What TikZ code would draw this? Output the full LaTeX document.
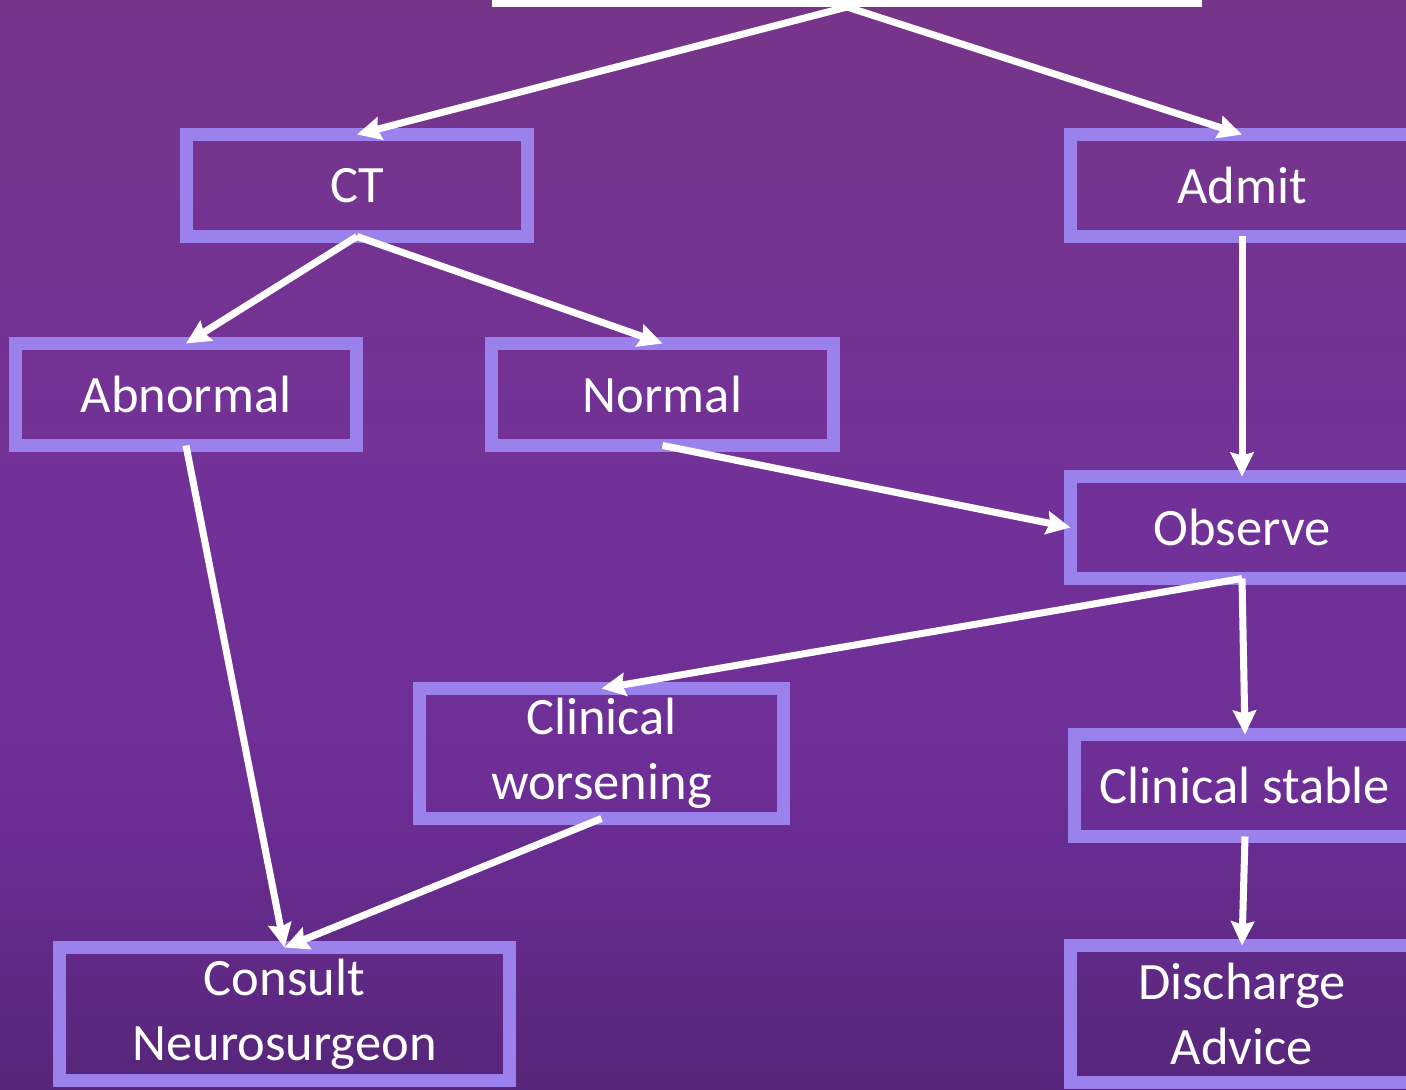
\documentclass[tikz,border=0pt]{standalone}
\usepackage{fontspec}
\setmainfont{Carlito}
\usetikzlibrary{arrows.meta}

\definecolor{bgtop}{RGB}{118,53,137}
\definecolor{bgupper}{RGB}{116,51,145}
\definecolor{bgmid}{RGB}{113,49,153}
\definecolor{bglow}{RGB}{109,46,150}
\definecolor{bgbot}{RGB}{86,38,122}
\definecolor{lavender}{RGB}{155,129,235}

\pgfdeclareverticalshading{slideback}{100bp}{color(0bp)=(bgbot); color(25bp)=(bgbot);
  color(39bp)=(bglow); color(50.5bp)=(bgmid); color(62.5bp)=(bgupper);
  color(75bp)=(bgtop); color(100bp)=(bgtop)}

\begin{document}
\begin{tikzpicture}[x=0.02cm, y=-0.02cm, font=\fontsize{29.9}{37}\selectfont]
            \tikzstyle{flow box}=[draw=lavender, line width=7.4pt, text=white, align=center,
                                  minimum width=6.84cm, minimum height=2.04cm, inner sep=0pt, outer sep=0pt]
            \tikzstyle{flow arrow}=[white, line width=4pt,
                                    -{Stealth[length=0.48cm, width=0.46cm, inset=0.06cm]}]

            % background
            \useasboundingbox (0,0) rectangle (1406,1089);
            \clip (0,0) rectangle (1406,1089);
            \shade[shading=slideback] (0,0) rectangle (1406,1089);

            % boxes
            \node[fill=white, minimum width=14.2cm, minimum height=2cm, inner sep=0pt, outer sep=0pt] (head) at (847,-43) {};
            \node[flow box] (ct) at (357,185.5) {CT};
            \node[flow box, minimum width=6.86cm] (admit) at (1242,185.5) {Admit};
            \node[flow box] (abnormal) at (186,394.5) {Abnormal};
            \node[flow box] (normal) at (662.5,394.5) {Normal};
            \node[flow box, minimum width=6.86cm] (observe) at (1242,527.5) {Observe};
            \node[flow box, minimum width=7.28cm, minimum height=2.6cm] (worsening) at (601.5,753.5) {Clinical\\worsening};
            \node[flow box] (stable) at (1245,785.5) {Clinical stable};
            \node[flow box, minimum width=9cm, minimum height=2.66cm] (consult) at (284.5,1014) {Consult\\Neurosurgeon};
            \node[flow box, minimum width=6.86cm, minimum height=2.74cm] (discharge) at (1242,1014) {Discharge\\Advice};

            % arrows
            \draw[flow arrow] (head.south) -- (ct.north);
            \draw[flow arrow] (head.south) -- (admit.north);
            \draw[flow arrow] (ct.south) -- (abnormal.north);
            \draw[flow arrow] (ct.south) -- (normal.north);
            \draw[flow arrow] (admit.south) -- (observe.north);
            \draw[flow arrow] (normal.south) -- (observe.west);
            \draw[flow arrow] (abnormal.south) -- (consult.north);
            \draw[flow arrow] (observe.south) -- (worsening.north);
            \draw[flow arrow] (observe.south) -- (stable.north);
            \draw[flow arrow] (worsening.south) -- (consult.north);
            \draw[flow arrow] (stable.south) -- (discharge.north);
        \end{tikzpicture}
\end{document}
